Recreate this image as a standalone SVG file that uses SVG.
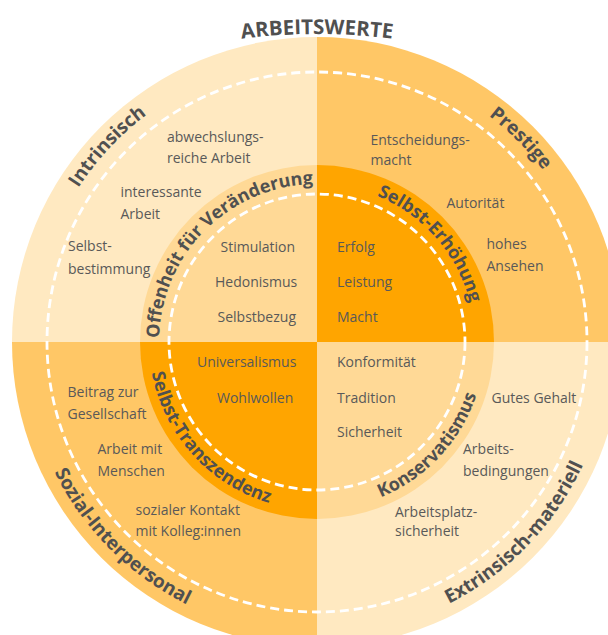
<svg xmlns="http://www.w3.org/2000/svg" width="608" height="635" viewBox="0 0 608 635">
  <style>
    .t { font-family: "Open Sans", "Noto Sans", sans-serif; font-size: 14px; fill: #595959; }
    .lbl { font-family: "Open Sans", "Noto Sans", sans-serif; font-weight: 700; fill: #505050; }
    .outer { font-size: 19px; }
    .inner { font-size: 18px; }
    .dash { fill: none; stroke: #ffffff; stroke-width: 2.8; stroke-dasharray: 9 5; }
  </style>
  <defs>
    <!-- baselines for the curved labels, all concentric with the wheel at (317,342) -->
    <path id="arc-title" d="M161.7,54.4 A600,600 0 0 1 472.3,54.4"/>
    <path id="arc-intr" d="M40.3,278.1 A284,284 0 0 1 234.0,70.4"/>
    <path id="arc-pres" d="M390.5,67.7 A284,284 0 0 1 591.3,268.5"/>
    <path id="arc-soz" d="M34.0,417.8 A293,293 0 0 0 241.2,625.0"/>
    <path id="arc-extr" d="M397.8,623.7 A293,293 0 0 0 601.3,412.9"/>
    <path id="arc-offen" d="M161.4,369.4 A158,158 0 0 1 344.4,186.4"/>
    <path id="arc-erh" d="M300.5,184.9 A158,158 0 0 1 470.3,380.2"/>
    <path id="arc-kons" d="M293.6,508.4 A168,168 0 0 0 481.3,307.1"/>
    <path id="arc-trans" d="M153.3,304.2 A168,168 0 0 0 337.5,508.7"/>
  </defs>

  <g id="title">
    <text class="lbl" font-size="20.5"><textPath href="#arc-title" startOffset="50%" text-anchor="middle">ARBEITSWERTE</textPath></text>
  </g>

  <!-- outer ring: work values -->
  <g id="intrinsisch">
    <path d="M317,342 L12,342 A305,305 0 0 1 317,37 Z" fill="#FFE9C1"/>
  </g>
  <g id="prestige">
    <path d="M317,342 L317,37 A305,305 0 0 1 622,342 Z" fill="#FFC766"/>
  </g>
  <g id="extrinsisch">
    <path d="M317,342 L622,342 A305,305 0 0 1 317,647 Z" fill="#FFE9C1"/>
  </g>
  <g id="sozial">
    <path d="M317,342 L317,647 A305,305 0 0 1 12,342 Z" fill="#FFC766"/>
  </g>

  <!-- inner disc: higher-order value dimensions -->
  <g id="offenheit">
    <path d="M317,342 L140,342 A177,177 0 0 1 317,165 Z" fill="#FFD996"/>
  </g>
  <g id="selbst-erhoehung">
    <path d="M317,342 L317,165 A177,177 0 0 1 494,342 Z" fill="#FFA500"/>
  </g>
  <g id="konservatismus">
    <path d="M317,342 L494,342 A177,177 0 0 1 317,519 Z" fill="#FFD996"/>
  </g>
  <g id="selbst-transzendenz">
    <path d="M317,342 L317,519 A177,177 0 0 1 140,342 Z" fill="#FFA500"/>
  </g>

  <g id="dashed-rings">
    <circle class="dash" cx="317" cy="342" r="270"/>
    <circle class="dash" cx="317" cy="342" r="148"/>
  </g>

  <!-- ring labels -->
  <g id="ring-labels">
    <text class="lbl outer"><textPath href="#arc-intr" startOffset="50%" text-anchor="middle">Intrinsisch</textPath></text>
    <text class="lbl outer"><textPath href="#arc-pres" startOffset="50%" text-anchor="middle">Prestige</textPath></text>
    <text class="lbl outer"><textPath href="#arc-soz" startOffset="50%" text-anchor="middle">Sozial-Interpersonal</textPath></text>
    <text class="lbl outer"><textPath href="#arc-extr" startOffset="50%" text-anchor="middle">Extrinsisch-materiell</textPath></text>
    <text class="lbl inner"><textPath href="#arc-offen" startOffset="50%" text-anchor="middle">Offenheit für Veränderung</textPath></text>
    <text class="lbl inner"><textPath href="#arc-erh" startOffset="50%" text-anchor="middle">Selbst-Erhöhung</textPath></text>
    <text class="lbl inner"><textPath href="#arc-kons" startOffset="50%" text-anchor="middle">Konservatismus</textPath></text>
    <text class="lbl inner"><textPath href="#arc-trans" startOffset="50%" text-anchor="middle">Selbst-Transzendenz</textPath></text>
  </g>

  <!-- item texts -->
  <g id="items-intrinsisch">
    <text class="t" x="167" y="142">abwechslungs-</text>
    <text class="t" x="167" y="163">reiche Arbeit</text>
    <text class="t" x="120.5" y="197">interessante</text>
    <text class="t" x="120.5" y="219">Arbeit</text>
    <text class="t" x="68" y="251">Selbst-</text>
    <text class="t" x="68" y="274">bestimmung</text>
  </g>
  <g id="items-prestige">
    <text class="t" x="370.5" y="145">Entscheidungs-</text>
    <text class="t" x="370.5" y="165">macht</text>
    <text class="t" x="446.5" y="208">Autorität</text>
    <text class="t" x="486.5" y="249">hohes</text>
    <text class="t" x="486.5" y="271">Ansehen</text>
  </g>
  <g id="items-offenheit">
    <text class="t" x="220.5" y="252">Stimulation</text>
    <text class="t" x="215" y="287">Hedonismus</text>
    <text class="t" x="217.5" y="322">Selbstbezug</text>
  </g>
  <g id="items-erhoehung">
    <text class="t" x="337" y="252">Erfolg</text>
    <text class="t" x="337" y="287">Leistung</text>
    <text class="t" x="337" y="322">Macht</text>
  </g>
  <g id="items-transzendenz">
    <text class="t" x="197" y="367">Universalismus</text>
    <text class="t" x="217" y="402.5">Wohlwollen</text>
  </g>
  <g id="items-konservatismus">
    <text class="t" x="337" y="367">Konformität</text>
    <text class="t" x="337" y="402.5">Tradition</text>
    <text class="t" x="337" y="437">Sicherheit</text>
  </g>
  <g id="items-sozial">
    <text class="t" x="67.5" y="397">Beitrag zur</text>
    <text class="t" x="67.5" y="419">Gesellschaft</text>
    <text class="t" x="97.5" y="454">Arbeit mit</text>
    <text class="t" x="97.5" y="476">Menschen</text>
    <text class="t" x="135.5" y="515">sozialer Kontakt</text>
    <text class="t" x="135.5" y="536">mit Kolleg:innen</text>
  </g>
  <g id="items-extrinsisch">
    <text class="t" x="491.5" y="402.5">Gutes Gehalt</text>
    <text class="t" x="463" y="454">Arbeits-</text>
    <text class="t" x="463" y="476">bedingungen</text>
    <text class="t" x="395" y="516.5">Arbeitsplatz-</text>
    <text class="t" x="395" y="536">sicherheit</text>
  </g>
</svg>
